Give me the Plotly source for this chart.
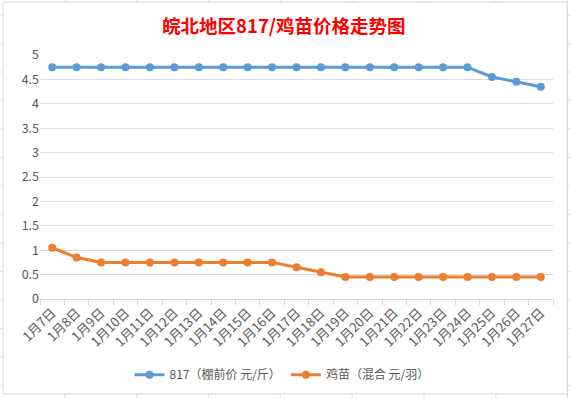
import plotly.graph_objects as go

dates = ["1月7日", "1月8日", "1月9日", "1月10日", "1月11日", "1月12日", "1月13日",
         "1月14日", "1月15日", "1月16日", "1月17日", "1月18日", "1月19日", "1月20日",
         "1月21日", "1月22日", "1月23日", "1月24日", "1月25日", "1月26日", "1月27日"]
price_817 = [4.75, 4.75, 4.75, 4.75, 4.75, 4.75, 4.75, 4.75, 4.75, 4.75, 4.75,
             4.75, 4.75, 4.75, 4.75, 4.75, 4.75, 4.75, 4.55, 4.45, 4.35]
price_chick = [1.05, 0.85, 0.75, 0.75, 0.75, 0.75, 0.75, 0.75, 0.75, 0.75, 0.65,
               0.55, 0.45, 0.45, 0.45, 0.45, 0.45, 0.45, 0.45, 0.45, 0.45]
name_817 = "817（棚前价 元/斤）"
name_chick = "鸡苗（混合 元/羽）"
title_text = "皖北地区817/鸡苗价格走势图"
y_ticks = [0, 0.5, 1, 1.5, 2, 2.5, 3, 3.5, 4, 4.5, 5]

W, H = 571, 398
L, R, T, B = 40, 18, 55, 99
PW, PH = W - L - R, H - T - B


def px(x):
    return (x - L) / PW


def py(y):
    return (H - B - y) / PH


FONT = "Noto Sans CJK SC"
fig = go.Figure()
fig.add_trace(go.Scatter(x=dates, y=price_817, name=name_817, mode="lines+markers",
                         line=dict(color="#5B9BD5", width=3),
                         marker=dict(color="#5B9BD5", size=8)))
fig.add_trace(go.Scatter(x=dates, y=price_chick, name=name_chick, mode="lines+markers",
                         line=dict(color="#ED7D31", width=3),
                         marker=dict(color="#ED7D31", size=8)))

# spreadsheet cell grid behind the chart object
shapes = []
for i in range(15):
    yy = 15 + 28.5 * i
    shapes.append(dict(type="line", xref="paper", yref="paper", x0=px(0), x1=px(W),
                       y0=py(yy), y1=py(yy), line=dict(color="#E3E3E3", width=1), layer="below"))
for i in range(8):
    xx = 65 + 71.8 * i
    shapes.append(dict(type="line", xref="paper", yref="paper", x0=px(xx), x1=px(xx),
                       y0=py(0), y1=py(H), line=dict(color="#E3E3E3", width=1), layer="below"))
shapes.append(dict(type="rect", xref="paper", yref="paper",
                   x0=px(3), x1=px(567), y0=py(394), y1=py(2),
                   line=dict(color="#D9D9D9", width=1), fillcolor="white", layer="below"))

fig.update_layout(
    width=W, height=H,
    margin=dict(l=L, r=R, t=T, b=B, autoexpand=False),
    paper_bgcolor="white", plot_bgcolor="rgba(0,0,0,0)",
    font=dict(family=FONT, size=12, color="#595959"),
    title=dict(text="<b>" + title_text + "</b>", x=0.497, xref="container", xanchor="center",
               y=1 - 27 / H, yref="container", yanchor="middle",
               font=dict(family=FONT, size=18.5, color="#FF0000")),
    showlegend=True,
    legend=dict(orientation="h", x=px(282), xref="paper", xanchor="center",
                y=-0.31, yanchor="middle", font=dict(size=12, color="#595959"),
                itemwidth=30, tracegroupgap=0, bgcolor="rgba(0,0,0,0)"),
    xaxis=dict(type="category", range=[-0.5, len(dates) - 0.5], tickangle=-45,
               showgrid=False, showline=True, linecolor="#D9D9D9", linewidth=1,
               ticks="outside", tickson="boundaries", ticklen=5, tickcolor="#D9D9D9",
               tickfont=dict(size=13, color="#595959"), automargin=False),
    yaxis=dict(range=[0, 5], tickvals=y_ticks, ticktext=[f"{v:g}" for v in y_ticks],
               showgrid=True, gridcolor="#D9D9D9", gridwidth=1, zeroline=False,
               showline=False, ticks="", tickfont=dict(size=12.5, color="#595959"),
               automargin=False),
    shapes=shapes,
)

fig.write_html("out.html", config={"displayModeBar": False},
               post_script="document.body.style.margin='0';document.body.style.overflow='hidden';")
